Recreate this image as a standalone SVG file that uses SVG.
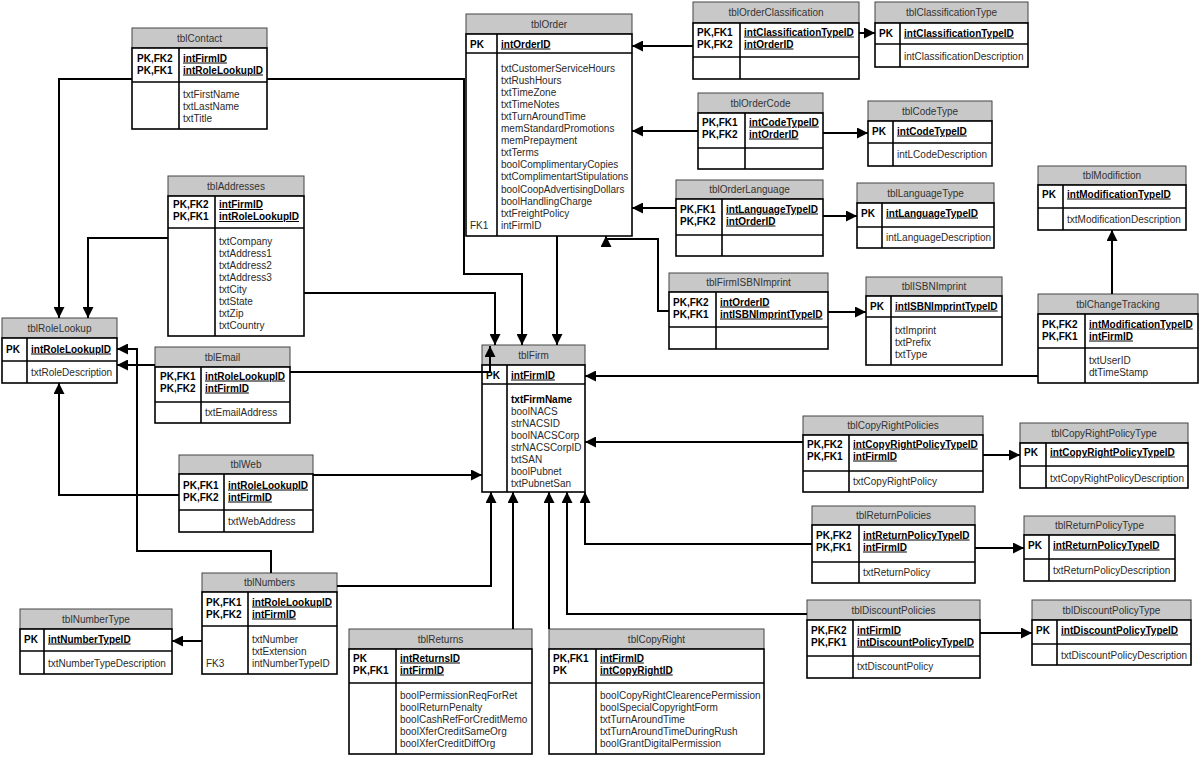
<svg xmlns="http://www.w3.org/2000/svg" width="1200" height="757" viewBox="0 0 1200 757">
<style>
.hdr{fill:#c8c8c8;stroke:#444;stroke-width:1}
.box{fill:#fff;stroke:#000;stroke-width:1.6}
.ln{stroke:#000;stroke-width:1.6}
text{font-family:"Liberation Sans",Arial,sans-serif;font-size:10px;fill:#2a2a2a}
.title{text-anchor:middle;fill:#333}
.k{font-weight:bold;fill:#000}
.u{text-decoration:underline}
.c{fill:none;stroke:#000;stroke-width:2}
</style>
<defs>
<marker id="ar" markerUnits="userSpaceOnUse" markerWidth="11" markerHeight="11" refX="10" refY="5" orient="auto" viewBox="0 0 10 10">
<path d="M0,0 L10,5 L0,10 z" fill="#000"/>
</marker>
</defs>
<rect width="1200" height="757" fill="#fff"/>

<g id="tblContact">
<rect class="hdr" x="132" y="28" width="135" height="20"/>
<rect class="box" x="132" y="48" width="135" height="81"/>
<line class="ln" x1="132" y1="82" x2="267" y2="82"/>
<line class="ln" x1="179" y1="48" x2="179" y2="129"/>
<text class="title" x="199.5" y="41.5">tblContact</text>
<text class="k" x="137" y="61.5">PK,FK2</text>
<text class="k" x="137" y="73.5">PK,FK1</text>
<text class="k u" x="183" y="61.5">intFirmID</text>
<text class="k u" x="183" y="73.5">intRoleLookupID</text>
<text x="183" y="97.5">txtFirstName</text>
<text x="183" y="109.5">txtLastName</text>
<text x="183" y="121.5">txtTitle</text>
</g>

<g id="tblAddresses">
<rect class="hdr" x="168" y="176" width="136" height="20"/>
<rect class="box" x="168" y="196" width="136" height="140"/>
<line class="ln" x1="168" y1="228" x2="304" y2="228"/>
<line class="ln" x1="215" y1="196" x2="215" y2="336"/>
<text class="title" x="236" y="189.5">tblAddresses</text>
<text class="k" x="173" y="208">PK,FK2</text>
<text class="k" x="173" y="220">PK,FK1</text>
<text class="k u" x="219" y="208">intFirmID</text>
<text class="k u" x="219" y="220">intRoleLookupID</text>
<text x="219" y="244.5">txtCompany</text>
<text x="219" y="256.6">txtAddress1</text>
<text x="219" y="268.7">txtAddress2</text>
<text x="219" y="280.8">txtAddress3</text>
<text x="219" y="292.9">txtCity</text>
<text x="219" y="305">txtState</text>
<text x="219" y="317.1">txtZip</text>
<text x="219" y="329.2">txtCountry</text>
</g>

<g id="tblRoleLookup">
<rect class="hdr" x="2" y="318" width="115" height="20"/>
<rect class="box" x="2" y="338" width="115" height="45"/>
<line class="ln" x1="2" y1="361" x2="117" y2="361"/>
<line class="ln" x1="27" y1="338" x2="27" y2="383"/>
<text class="title" x="59.5" y="331.5">tblRoleLookup</text>
<text class="k" x="6" y="352.5">PK</text>
<text class="k u" x="31" y="352.5">intRoleLookupID</text>
<text x="31" y="375.5">txtRoleDescription</text>
</g>

<g id="tblEmail">
<rect class="hdr" x="155" y="347" width="135" height="20"/>
<rect class="box" x="155" y="367" width="135" height="56"/>
<line class="ln" x1="155" y1="402" x2="290" y2="402"/>
<line class="ln" x1="201" y1="367" x2="201" y2="423"/>
<text class="title" x="222.5" y="360.5">tblEmail</text>
<text class="k" x="160" y="379.5">PK,FK1</text>
<text class="k" x="160" y="391.5">PK,FK2</text>
<text class="k u" x="205" y="379.5">intRoleLookupID</text>
<text class="k u" x="205" y="391.5">intFirmID</text>
<text x="205" y="415.5">txtEmailAddress</text>
</g>

<g id="tblWeb">
<rect class="hdr" x="179" y="455" width="134" height="19"/>
<rect class="box" x="179" y="474" width="134" height="58"/>
<line class="ln" x1="179" y1="510" x2="313" y2="510"/>
<line class="ln" x1="224" y1="474" x2="224" y2="532"/>
<text class="title" x="246" y="468">tblWeb</text>
<text class="k" x="183" y="488.5">PK,FK1</text>
<text class="k" x="183" y="500.5">PK,FK2</text>
<text class="k u" x="228" y="488.5">intRoleLookupID</text>
<text class="k u" x="228" y="500.5">intFirmID</text>
<text x="228" y="524.5">txtWebAddress</text>
</g>

<g id="tblNumbers">
<rect class="hdr" x="202" y="573" width="135" height="19"/>
<rect class="box" x="202" y="592" width="135" height="82"/>
<line class="ln" x1="202" y1="626" x2="337" y2="626"/>
<line class="ln" x1="248" y1="592" x2="248" y2="674"/>
<text class="title" x="269.5" y="586">tblNumbers</text>
<text class="k" x="206" y="605.5">PK,FK1</text>
<text class="k" x="206" y="617.5">PK,FK2</text>
<text class="k u" x="252" y="605.5">intRoleLookupID</text>
<text class="k u" x="252" y="617.5">intFirmID</text>
<text x="252" y="642.5">txtNumber</text>
<text x="252" y="654.5">txtExtension</text>
<text x="206" y="666.5">FK3</text>
<text x="252" y="666.5">intNumberTypeID</text>
</g>

<g id="tblNumberType">
<rect class="hdr" x="20" y="609" width="152" height="20"/>
<rect class="box" x="20" y="629" width="152" height="45"/>
<line class="ln" x1="20" y1="651" x2="172" y2="651"/>
<line class="ln" x1="44" y1="629" x2="44" y2="674"/>
<text class="title" x="96" y="622.5">tblNumberType</text>
<text class="k" x="24" y="642.5">PK</text>
<text class="k u" x="48" y="642.5">intNumberTypeID</text>
<text x="48" y="666.5">txtNumberTypeDescription</text>
</g>

<g id="tblReturns">
<rect class="hdr" x="349" y="629" width="183" height="20"/>
<rect class="box" x="349" y="649" width="183" height="105"/>
<line class="ln" x1="349" y1="683" x2="532" y2="683"/>
<line class="ln" x1="396" y1="649" x2="396" y2="754"/>
<text class="title" x="440.5" y="642.5">tblReturns</text>
<text class="k" x="353" y="661.5">PK</text>
<text class="k" x="353" y="673.5">PK,FK1</text>
<text class="k u" x="400" y="661.5">intReturnsID</text>
<text class="k u" x="400" y="673.5">intFirmID</text>
<text x="400" y="698.5">boolPermissionReqForRet</text>
<text x="400" y="710.5">boolReturnPenalty</text>
<text x="400" y="722.5">boolCashRefForCreditMemo</text>
<text x="400" y="734.5">boolXferCreditSameOrg</text>
<text x="400" y="746.5">boolXferCreditDiffOrg</text>
</g>

<g id="tblCopyRight">
<rect class="hdr" x="549" y="629" width="215" height="20"/>
<rect class="box" x="549" y="649" width="215" height="105"/>
<line class="ln" x1="549" y1="683" x2="764" y2="683"/>
<line class="ln" x1="596" y1="649" x2="596" y2="754"/>
<text class="title" x="656.5" y="642.5">tblCopyRight</text>
<text class="k" x="553" y="661.5">PK,FK1</text>
<text class="k" x="553" y="673.5">PK</text>
<text class="k u" x="600" y="661.5">intFirmID</text>
<text class="k u" x="600" y="673.5">intCopyRightID</text>
<text x="600" y="698.5">boolCopyRightClearencePermission</text>
<text x="600" y="710.5">boolSpecialCopyrightForm</text>
<text x="600" y="722.5">txtTurnAroundTime</text>
<text x="600" y="734.5">txtTurnAroundTimeDuringRush</text>
<text x="600" y="746.5">boolGrantDigitalPermission</text>
</g>

<g id="tblFirm">
<rect class="hdr" x="482" y="345" width="103" height="20"/>
<rect class="box" x="482" y="365" width="103" height="127"/>
<line class="ln" x1="482" y1="384" x2="585" y2="384"/>
<line class="ln" x1="507" y1="365" x2="507" y2="492"/>
<text class="title" x="533.5" y="358.5">tblFirm</text>
<text class="k" x="486" y="378.5">PK</text>
<text class="k u" x="511" y="378.5">intFirmID</text>
<text class="k" x="511" y="402.5">txtFirmName</text>
<text x="511" y="414.5">boolNACS</text>
<text x="511" y="426.5">strNACSID</text>
<text x="511" y="438.5">boolNACSCorp</text>
<text x="511" y="450.5">strNACSCorpID</text>
<text x="511" y="462.5">txtSAN</text>
<text x="511" y="474.5">boolPubnet</text>
<text x="511" y="486.5">txtPubnetSan</text>
</g>

<g id="tblOrder">
<rect class="hdr" x="466" y="14" width="166" height="20"/>
<rect class="box" x="466" y="34" width="166" height="202"/>
<line class="ln" x1="466" y1="53" x2="632" y2="53"/>
<line class="ln" x1="497" y1="34" x2="497" y2="236"/>
<text class="title" x="549" y="27.5">tblOrder</text>
<text class="k" x="470" y="47.5">PK</text>
<text class="k u" x="501" y="47.5">intOrderID</text>
<text x="501" y="71.5">txtCustomerServiceHours</text>
<text x="501" y="83.6">txtRushHours</text>
<text x="501" y="95.7">txtTimeZone</text>
<text x="501" y="107.8">txtTimeNotes</text>
<text x="501" y="119.9">txtTurnAroundTime</text>
<text x="501" y="132">memStandardPromotions</text>
<text x="501" y="144.1">memPrepayment</text>
<text x="501" y="156.2">txtTerms</text>
<text x="501" y="168.3">boolComplimentaryCopies</text>
<text x="501" y="180.4">txtComplimentartStipulations</text>
<text x="501" y="192.5">boolCoopAdvertisingDollars</text>
<text x="501" y="204.6">boolHandlingCharge</text>
<text x="501" y="216.7">txtFreightPolicy</text>
<text x="470" y="228.8">FK1</text>
<text x="501" y="228.8">intFirmID</text>
</g>

<g id="tblOrderClassification">
<rect class="hdr" x="693" y="2" width="166" height="21"/>
<rect class="box" x="693" y="23" width="166" height="56"/>
<line class="ln" x1="693" y1="57" x2="859" y2="57"/>
<line class="ln" x1="740" y1="23" x2="740" y2="79"/>
<text class="title" x="776" y="16">tblOrderClassification</text>
<text class="k" x="697" y="35.5">PK,FK1</text>
<text class="k" x="697" y="47.5">PK,FK2</text>
<text class="k u" x="744" y="35.5">intClassificationTypeID</text>
<text class="k u" x="744" y="47.5">intOrderID</text>
</g>

<g id="tblClassificationType">
<rect class="hdr" x="875" y="2" width="153" height="21"/>
<rect class="box" x="875" y="23" width="153" height="44"/>
<line class="ln" x1="875" y1="44" x2="1028" y2="44"/>
<line class="ln" x1="900" y1="23" x2="900" y2="67"/>
<text class="title" x="951.5" y="16">tblClassificationType</text>
<text class="k" x="879" y="36.5">PK</text>
<text class="k u" x="904" y="36.5">intClassificationTypeID</text>
<text x="904" y="59.5">intClassificationDescription</text>
</g>

<g id="tblOrderCode">
<rect class="hdr" x="698" y="93" width="125" height="20"/>
<rect class="box" x="698" y="113" width="125" height="56"/>
<line class="ln" x1="698" y1="148" x2="823" y2="148"/>
<line class="ln" x1="745" y1="113" x2="745" y2="169"/>
<text class="title" x="760.5" y="106.5">tblOrderCode</text>
<text class="k" x="702" y="125.5">PK,FK1</text>
<text class="k" x="702" y="137.5">PK,FK2</text>
<text class="k u" x="749" y="125.5">intCodeTypeID</text>
<text class="k u" x="749" y="137.5">intOrderID</text>
</g>

<g id="tblCodeType">
<rect class="hdr" x="868" y="101" width="124" height="20"/>
<rect class="box" x="868" y="121" width="124" height="45"/>
<line class="ln" x1="868" y1="143" x2="992" y2="143"/>
<line class="ln" x1="893" y1="121" x2="893" y2="166"/>
<text class="title" x="930" y="114.5">tblCodeType</text>
<text class="k" x="872" y="134.5">PK</text>
<text class="k u" x="897" y="134.5">intCodeTypeID</text>
<text x="897" y="157.5">intLCodeDescription</text>
</g>

<g id="tblOrderLanguage">
<rect class="hdr" x="676" y="180" width="147" height="19"/>
<rect class="box" x="676" y="199" width="147" height="57"/>
<line class="ln" x1="676" y1="235" x2="823" y2="235"/>
<line class="ln" x1="722" y1="199" x2="722" y2="256"/>
<text class="title" x="749.5" y="193">tblOrderLanguage</text>
<text class="k" x="680" y="212.5">PK,FK1</text>
<text class="k" x="680" y="224.5">PK,FK2</text>
<text class="k u" x="726" y="212.5">intLanguageTypeID</text>
<text class="k u" x="726" y="224.5">intOrderID</text>
</g>

<g id="tblLanguageType">
<rect class="hdr" x="857" y="183" width="137" height="20"/>
<rect class="box" x="857" y="203" width="137" height="45"/>
<line class="ln" x1="857" y1="227" x2="994" y2="227"/>
<line class="ln" x1="882" y1="203" x2="882" y2="248"/>
<text class="title" x="925.5" y="196.5">tblLanguageType</text>
<text class="k" x="861" y="216.5">PK</text>
<text class="k u" x="886" y="216.5">intLanguageTypeID</text>
<text x="886" y="240.5">intLanguageDescription</text>
</g>

<g id="tblModifiction">
<rect class="hdr" x="1038" y="166" width="148" height="19"/>
<rect class="box" x="1038" y="185" width="148" height="45"/>
<line class="ln" x1="1038" y1="208" x2="1186" y2="208"/>
<line class="ln" x1="1063" y1="185" x2="1063" y2="230"/>
<text class="title" x="1112" y="179">tblModifiction</text>
<text class="k" x="1042" y="197.5">PK</text>
<text class="k u" x="1067" y="197.5">intModificationTypeID</text>
<text x="1067" y="222.5">txtModificationDescription</text>
</g>

<g id="tblFirmISBNImprint">
<rect class="hdr" x="669" y="273" width="159" height="19"/>
<rect class="box" x="669" y="292" width="159" height="57"/>
<line class="ln" x1="669" y1="327" x2="828" y2="327"/>
<line class="ln" x1="716" y1="292" x2="716" y2="349"/>
<text class="title" x="748.5" y="286">tblFirmISBNImprint</text>
<text class="k" x="673" y="305.5">PK,FK2</text>
<text class="k" x="673" y="317.5">PK,FK1</text>
<text class="k u" x="720" y="305.5">intOrderID</text>
<text class="k u" x="720" y="317.5">intISBNImprintTypeID</text>
</g>

<g id="tblISBNImprint">
<rect class="hdr" x="866" y="277" width="136" height="19"/>
<rect class="box" x="866" y="296" width="136" height="69"/>
<line class="ln" x1="866" y1="317" x2="1002" y2="317"/>
<line class="ln" x1="891" y1="296" x2="891" y2="365"/>
<text class="title" x="934" y="290">tblISBNImprint</text>
<text class="k" x="870" y="309.5">PK</text>
<text class="k u" x="895" y="309.5">intISBNImprintTypeID</text>
<text x="895" y="333.5">txtImprint</text>
<text x="895" y="345.5">txtPrefix</text>
<text x="895" y="357.5">txtType</text>
</g>

<g id="tblChangeTracking">
<rect class="hdr" x="1038" y="294" width="160" height="20"/>
<rect class="box" x="1038" y="314" width="160" height="69"/>
<line class="ln" x1="1038" y1="348" x2="1198" y2="348"/>
<line class="ln" x1="1085" y1="314" x2="1085" y2="383"/>
<text class="title" x="1118" y="307.5">tblChangeTracking</text>
<text class="k" x="1042" y="327.5">PK,FK2</text>
<text class="k" x="1042" y="339.5">PK,FK1</text>
<text class="k u" x="1089" y="327.5">intModificationTypeID</text>
<text class="k u" x="1089" y="339.5">intFirmID</text>
<text x="1089" y="363.5">txtUserID</text>
<text x="1089" y="375.5">dtTimeStamp</text>
</g>

<g id="tblCopyRightPolicies">
<rect class="hdr" x="803" y="416" width="180" height="19"/>
<rect class="box" x="803" y="435" width="180" height="57"/>
<line class="ln" x1="803" y1="471" x2="983" y2="471"/>
<line class="ln" x1="849" y1="435" x2="849" y2="492"/>
<text class="title" x="893" y="429">tblCopyRightPolicies</text>
<text class="k" x="807" y="447.5">PK,FK2</text>
<text class="k" x="807" y="459.5">PK,FK1</text>
<text class="k u" x="853" y="447.5">intCopyRightPolicyTypeID</text>
<text class="k u" x="853" y="459.5">intFirmID</text>
<text x="853" y="484.5">txtCopyRightPolicy</text>
</g>

<g id="tblCopyRightPolicyType">
<rect class="hdr" x="1020" y="423" width="168" height="20"/>
<rect class="box" x="1020" y="443" width="168" height="45"/>
<line class="ln" x1="1020" y1="466" x2="1188" y2="466"/>
<line class="ln" x1="1046" y1="443" x2="1046" y2="488"/>
<text class="title" x="1104" y="436.5">tblCopyRightPolicyType</text>
<text class="k" x="1024" y="455.5">PK</text>
<text class="k u" x="1050" y="455.5">intCopyRightPolicyTypeID</text>
<text x="1050" y="481.5">txtCopyRightPolicyDescription</text>
</g>

<g id="tblReturnPolicies">
<rect class="hdr" x="812" y="506" width="163" height="19"/>
<rect class="box" x="812" y="525" width="163" height="58"/>
<line class="ln" x1="812" y1="562" x2="975" y2="562"/>
<line class="ln" x1="859" y1="525" x2="859" y2="583"/>
<text class="title" x="893.5" y="519">tblReturnPolicies</text>
<text class="k" x="816" y="538.5">PK,FK2</text>
<text class="k" x="816" y="550.5">PK,FK1</text>
<text class="k u" x="863" y="538.5">intReturnPolicyTypeID</text>
<text class="k u" x="863" y="550.5">intFirmID</text>
<text x="863" y="575.5">txtReturnPolicy</text>
</g>

<g id="tblReturnPolicyType">
<rect class="hdr" x="1024" y="516" width="151" height="19"/>
<rect class="box" x="1024" y="535" width="151" height="46"/>
<line class="ln" x1="1024" y1="559" x2="1175" y2="559"/>
<line class="ln" x1="1049" y1="535" x2="1049" y2="581"/>
<text class="title" x="1099.5" y="529">tblReturnPolicyType</text>
<text class="k" x="1028" y="548.5">PK</text>
<text class="k u" x="1053" y="548.5">intReturnPolicyTypeID</text>
<text x="1053" y="573.5">txtReturnPolicyDescription</text>
</g>

<g id="tblDiscountPolicies">
<rect class="hdr" x="807" y="600" width="173" height="20"/>
<rect class="box" x="807" y="620" width="173" height="58"/>
<line class="ln" x1="807" y1="656" x2="980" y2="656"/>
<line class="ln" x1="853" y1="620" x2="853" y2="678"/>
<text class="title" x="893.5" y="613.5">tblDiscountPolicies</text>
<text class="k" x="811" y="633.5">PK,FK2</text>
<text class="k" x="811" y="645.5">PK,FK1</text>
<text class="k u" x="857" y="633.5">intFirmID</text>
<text class="k u" x="857" y="645.5">intDiscountPolicyTypeID</text>
<text x="857" y="669.5">txtDiscountPolicy</text>
</g>

<g id="tblDiscountPolicyType">
<rect class="hdr" x="1032" y="600" width="159" height="20"/>
<rect class="box" x="1032" y="620" width="159" height="45"/>
<line class="ln" x1="1032" y1="644" x2="1191" y2="644"/>
<line class="ln" x1="1057" y1="620" x2="1057" y2="665"/>
<text class="title" x="1111.5" y="613.5">tblDiscountPolicyType</text>
<text class="k" x="1036" y="633.5">PK</text>
<text class="k u" x="1061" y="633.5">intDiscountPolicyTypeID</text>
<text x="1061" y="658.5">txtDiscountPolicyDescription</text>
</g>

<g id="connectors">
<path class="c" marker-end="url(#ar)" d="M132,79 H59 V318"/>
<path class="c" marker-end="url(#ar)" d="M267,79 H464 V274 H522 V345"/>
<path class="c" marker-end="url(#ar)" d="M557,236 V345"/>
<path class="c" marker-end="url(#ar)" d="M168,238 H88 V318"/>
<path class="c" marker-end="url(#ar)" d="M304,293 H495 V345"/>
<path class="c" marker-end="url(#ar)" d="M155,365 H117"/>
<path class="c" marker-end="url(#ar)" d="M290,372 H490 V346"/>
<path class="c" marker-end="url(#ar)" d="M179,495 H59 V383"/>
<path class="c" marker-end="url(#ar)" d="M313,475 H482"/>
<path class="c" marker-end="url(#ar)" d="M271,573 V551 H137 V349 H117"/>
<path class="c" marker-end="url(#ar)" d="M337,586 H491 V492"/>
<path class="c" marker-end="url(#ar)" d="M202,641 H172"/>
<path class="c" marker-end="url(#ar)" d="M513,629 V492"/>
<path class="c" marker-end="url(#ar)" d="M549,629 V492"/>
<path class="c" marker-end="url(#ar)" d="M807,614 H567 V492"/>
<path class="c" marker-end="url(#ar)" d="M812,544 H585 V492"/>
<path class="c" marker-end="url(#ar)" d="M803,442 H585"/>
<path class="c" marker-end="url(#ar)" d="M1038,376 H585"/>
<path class="c" marker-end="url(#ar)" d="M1112,294 V230"/>
<path class="c" marker-end="url(#ar)" d="M983,455 H1020"/>
<path class="c" marker-end="url(#ar)" d="M975,548 H1024"/>
<path class="c" marker-end="url(#ar)" d="M980,633 H1032"/>
<path class="c" marker-end="url(#ar)" d="M693,46 H632"/>
<path class="c" marker-end="url(#ar)" d="M859,33 H875"/>
<path class="c" marker-end="url(#ar)" d="M698,131 H632"/>
<path class="c" marker-end="url(#ar)" d="M823,133 H868"/>
<path class="c" marker-end="url(#ar)" d="M676,208 H632"/>
<path class="c" marker-end="url(#ar)" d="M823,216 H857"/>
<path class="c" marker-end="url(#ar)" d="M669,311 H658 V239 H606 V236"/>
<path class="c" marker-end="url(#ar)" d="M828,312 H866"/>
</g>
</svg>
